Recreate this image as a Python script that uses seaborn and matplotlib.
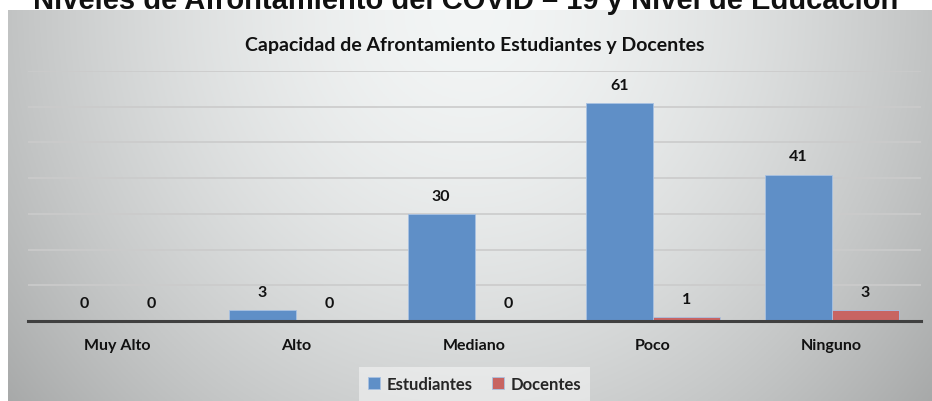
import numpy as np
import pandas as pd
import matplotlib.pyplot as plt
import seaborn as sns

categorias = ['Muy Alto', 'Alto', 'Mediano', 'Poco', 'Ninguno']
estudiantes = [0, 3, 30, 61, 41]
docentes = [0, 0, 0, 1, 3]

df = pd.DataFrame({
    'nivel': categorias * 2,
    'valor': estudiantes + docentes,
    'grupo': ['Estudiantes'] * 5 + ['Docentes'] * 5,
})

sns.set_theme(style='white')
plt.rcParams['font.family'] = ['Lato', 'DejaVu Sans']

W, H = 932, 402
fig = plt.figure(figsize=(W / 100, H / 100), dpi=100)
fig.patch.set_facecolor('white')

# gradient background of the chart box (light centre, grey edges)
bg = fig.add_axes([8 / W, 0, 1 - 8 / W, 1 - 11 / H])
xx, yy = np.meshgrid(np.linspace(-1, 1, 400), np.linspace(0, 1, 200))
r = np.sqrt((xx / 1.05) ** 2 + (yy / 1.3) ** 2)
shade = 0.96 - 0.21 * np.clip(r, 0, 1.3) ** 1.7
bg.imshow(np.dstack([shade * 0.99, shade, shade]).clip(0, 1),
          aspect='auto', extent=[0, 1, 1, 0])
bg.axis('off')

ax = fig.add_axes([28 / W, 1 - 322 / H, (921 - 28) / W, (322 - 72) / H])
ax.patch.set_alpha(0)
sns.barplot(data=df, x='nivel', y='valor', hue='grupo', ax=ax,
            palette={'Estudiantes': '#5F8FC7', 'Docentes': '#C86462'},
            saturation=1, width=0.75, gap=0,
            edgecolor='#A9C2E2', linewidth=0.6, legend=True)

ax.set_ylim(0, 70)
ax.set_yticks(range(0, 71, 10))
ax.set_yticklabels([])
ax.tick_params(axis='y', length=0)
ax.grid(axis='y', color='#CBCBCB', linewidth=1.2)
ax.set_axisbelow(True)
for s in ['top', 'right', 'left']:
    ax.spines[s].set_visible(False)
ax.spines['bottom'].set_color('#404040')
ax.spines['bottom'].set_linewidth(2.2)
ax.set_xlabel('')
ax.set_ylabel('')
ax.tick_params(axis='x', length=0, pad=12)
for t in ax.get_xticklabels():
    t.set_fontweight('bold')
    t.set_fontsize(11.5)
    t.set_color('#111111')

for c in ax.containers:
    ax.bar_label(c, fmt='%d', padding=8, fontsize=11.5, fontweight='bold', color='#111111')

ax.set_title('Capacidad de Afrontamiento Estudiantes y Docentes',
             fontsize=14, fontweight='bold', color='#111111', pad=15)

leg = ax.legend(loc='upper center', bbox_to_anchor=(0.5, -0.15), ncol=2,
                frameon=True, fontsize=12, handlelength=0.7, handleheight=0.7,
                handletextpad=0.4, columnspacing=1.2, borderpad=0.55)
leg.get_frame().set_facecolor('#ffffff')
leg.get_frame().set_alpha(0.45)
leg.get_frame().set_edgecolor('none')
leg.get_frame().set_boxstyle('square', pad=0)
for t in leg.get_texts():
    t.set_fontweight('bold')

fig.text(0.5, 1 - 9 / H, 'Niveles de Afrontamiento del COVID – 19 y Nivel de Educación',
         ha='center', va='baseline', fontsize=21, fontweight='bold',
         family=['Liberation Sans', 'DejaVu Sans'], color='#111111')

fig.savefig('out.png', dpi=100)
